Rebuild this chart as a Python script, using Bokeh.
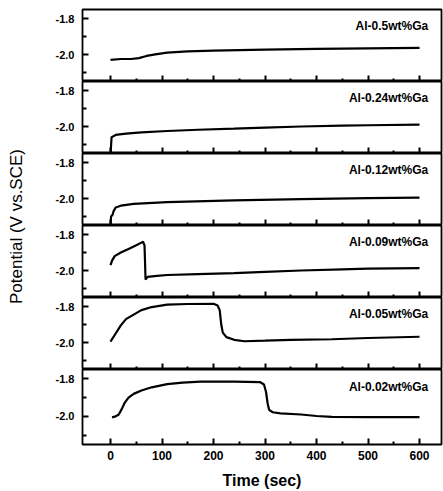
import math
from bokeh.plotting import figure
from bokeh.layouts import column, row
from bokeh.models import (FixedTicker, PrintfTickFormatter, CustomJSTickFormatter,
                          Range1d, ColumnDataSource)
from bokeh.embed import file_html
from bokeh.resources import INLINE
from bokeh.core.properties import value

# ---------------- data ----------------
panel_labels = ["Al-0.5wt%Ga", "Al-0.24wt%Ga", "Al-0.12wt%Ga",
                "Al-0.09wt%Ga", "Al-0.05wt%Ga", "Al-0.02wt%Ga"]

t_050 = [0, 20, 40, 55, 70, 90, 110, 150, 200, 300, 400, 500, 600]
v_050 = [-2.03, -2.025, -2.025, -2.02, -2.008, -1.998, -1.99, -1.983, -1.978,
         -1.973, -1.969, -1.966, -1.963]

t_024 = [0, 2, 5, 10, 30, 60, 110, 170, 240, 300, 370, 450, 500, 600]
v_024 = [-2.16, -2.06, -2.055, -2.047, -2.04, -2.033, -2.025, -2.018, -2.012,
         -2.006, -2.0, -1.995, -1.993, -1.99]

t_012 = [0, 1, 4, 6, 10, 20, 45, 110, 240, 370, 500, 600]
v_012 = [-2.16, -2.1, -2.09, -2.07, -2.05, -2.04, -2.03, -2.02, -2.01, -2.004,
         -1.998, -1.995]

t_009 = [0, 3, 8, 20, 35, 50, 60, 63, 66, 67, 68, 72, 90, 110, 170, 240, 300,
         370, 450, 500, 600]
v_009 = [-1.97, -1.945, -1.92, -1.9, -1.88, -1.86, -1.845, -1.84, -1.86, -1.95,
         -2.05, -2.035, -2.03, -2.025, -2.02, -2.015, -2.008, -2.0, -1.994,
         -1.99, -1.987]

t_005 = [0, 10, 20, 30, 45, 60, 80, 110, 150, 200, 208, 212, 215, 218, 225, 240,
         260, 300, 350, 430, 500, 600]
v_005 = [-1.995, -1.95, -1.905, -1.87, -1.845, -1.82, -1.803, -1.79, -1.786,
         -1.785, -1.795, -1.82, -1.9, -1.945, -1.97, -1.985, -1.993, -1.99,
         -1.985, -1.982, -1.975, -1.968]

t_002 = [3, 10, 16, 22, 28, 35, 45, 60, 80, 110, 140, 175, 240, 290, 298, 302,
         305, 308, 315, 330, 370, 400, 430, 500, 600]
v_002 = [-2.005, -2.0, -1.99, -1.96, -1.925, -1.9, -1.88, -1.862, -1.845,
         -1.828, -1.82, -1.815, -1.815, -1.817, -1.83, -1.87, -1.93, -1.965,
         -1.978, -1.984, -1.99, -1.998, -2.003, -2.004, -2.004]

series_t = [t_050, t_024, t_012, t_009, t_005, t_002]
series_v = [v_050, v_024, v_012, v_009, v_005, v_002]

x_major = [0, 100, 200, 300, 400, 500, 600]
x_minor = [50, 150, 250, 350, 450, 550]
y_major = [-1.8, -2.0]
y_minor = [-1.9, -2.1]

x_title = "Time (sec)"
y_title = "Potential (V vs.SCE)"

FONT = "Liberation Sans"

# ---------------- panels ----------------
panels = []
n = len(panel_labels)
for i in range(n):
    top = 9 if i == 0 else 0
    last = (i == n - 1)
    h = 72 + top + (50 if last else 0)
    p = figure(width=403, height=h, x_range=Range1d(-54.4, 642.7),
               y_range=Range1d(-2.15, -1.75), output_backend="svg",
               toolbar_location=None, min_border_left=42, min_border_right=2,
               min_border_top=top, min_border_bottom=0)
    p.grid.visible = False
    p.outline_line_color = "black"
    p.outline_line_width = 1.8

    src = ColumnDataSource(dict(t=series_t[i], v=series_v[i]))
    p.line("t", "v", source=src, line_color="black", line_width=2.2)

    lab = ColumnDataSource(dict(x=[617], y=[-1.843], s=[panel_labels[i]]))
    p.text("x", "y", text="s", source=lab, text_align="right",
           text_baseline="middle", text_font=value(FONT),
           text_font_style="bold", text_font_size="12px", text_color="black")

    ya = p.yaxis[0]
    ya.ticker = FixedTicker(ticks=y_major, minor_ticks=y_minor)
    ya.formatter = PrintfTickFormatter(format="%.1f")
    ya.major_tick_in = 6
    ya.major_tick_out = 0
    ya.minor_tick_in = 4
    ya.minor_tick_out = 0
    ya.axis_line_color = "black"
    ya.major_tick_line_color = "black"
    ya.minor_tick_line_color = "black"
    ya.major_tick_line_width = 2
    ya.minor_tick_line_width = 2
    ya.major_label_standoff = 8
    ya.major_label_text_font = FONT
    ya.major_label_text_font_style = "bold"
    ya.major_label_text_font_size = "11px"
    ya.major_label_text_color = "black"

    xa = p.xaxis[0]
    xa.ticker = FixedTicker(ticks=x_major, minor_ticks=x_minor)
    xa.major_tick_in = 6
    xa.major_tick_out = 0
    xa.minor_tick_in = 3
    xa.minor_tick_out = 0
    xa.axis_line_color = "black"
    xa.major_tick_line_color = "black"
    xa.minor_tick_line_color = "black"
    xa.major_tick_line_width = 2
    xa.minor_tick_line_width = 2
    if last:
        xa.major_label_standoff = 6
        xa.major_label_text_font = FONT
        xa.major_label_text_font_style = "bold"
        xa.major_label_text_font_size = "12px"
        xa.major_label_text_color = "black"
        xa.axis_label = x_title
        xa.axis_label_standoff = 9
        xa.axis_label_text_font = FONT
        xa.axis_label_text_font_style = "bold"
        xa.axis_label_text_font_size = "16px"
        xa.axis_label_text_color = "black"
    else:
        xa.formatter = CustomJSTickFormatter(code="return ''")
        xa.major_label_standoff = 0
    panels.append(p)

# ---------------- y title strip ----------------
total_h = sum(pp.height for pp in panels)
lf = figure(width=40, height=total_h, x_range=Range1d(0, 40),
            y_range=Range1d(0, total_h), output_backend="svg",
            toolbar_location=None, min_border=0)
lf.axis.visible = False
lf.grid.visible = False
lf.outline_line_color = None
tsrc = ColumnDataSource(dict(x=[16], y=[total_h - 226], s=[y_title]))
lf.text("x", "y", text="s", source=tsrc, angle=math.pi / 2,
        text_align="center", text_baseline="middle", text_font=value(FONT),
        text_font_size="17px", text_color="black")

layout = row(lf, column(*panels, spacing=0), spacing=0)

open("out.html", "w").write(file_html(layout, INLINE))
